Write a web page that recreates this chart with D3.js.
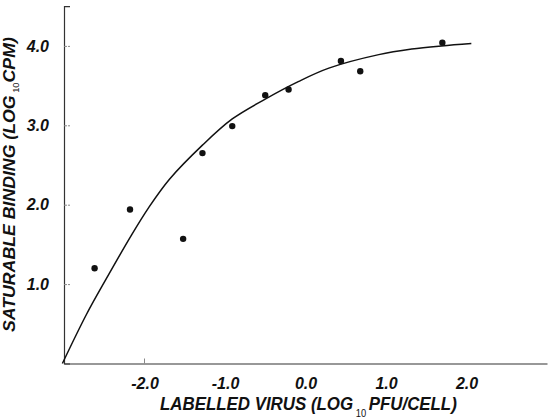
<!DOCTYPE html>
<html>
<head>
<meta charset="utf-8">
<script src="https://cdn.jsdelivr.net/npm/d3@7"></script>
<style>
body { margin: 0; background: #fff; }
svg { font-family: "Liberation Sans", Arial, sans-serif; }
.tick-label { font-weight: bold; font-style: italic; fill: #111; }
.axis-title { font-weight: bold; font-style: italic; fill: #111; }
</style>
</head>
<body>
<svg width="549" height="418"></svg>
<script>
// measured points
var virusLog = [-2.62, -2.18, -1.52, -1.28, -0.91, -0.50, -0.21, 0.44, 0.68, 1.70];
var bindingLog = [1.20, 1.94, 1.57, 2.65, 2.99, 3.38, 3.45, 3.81, 3.68, 4.04];

// fitted curve
var curveX = [-3.02, -2.72, -2.49, -2.16, -1.95, -1.69, -1.28, -0.91, -0.50, -0.09, 0.29, 0.91, 1.32, 1.69, 2.06];
var curveY = [0.00, 0.62, 1.04, 1.62, 1.96, 2.32, 2.75, 3.08, 3.33, 3.55, 3.72, 3.89, 3.96, 4.00, 4.03];

var xTicks = [-2, -1, 0, 1, 2];
var xTickLabels = ["-2.0", "-1.0", "0.0", "1.0", "2.0"];
var yTicks = [1, 2, 3, 4];
var yTickLabels = ["1.0", "2.0", "3.0", "4.0"];
var xTickMarks = [-2];

var svg = d3.select("svg");

var x = d3.scaleLinear().domain([-3, 3]).range([64, 547]);
var y = d3.scaleLinear().domain([0, 4.5]).range([363.5, 6.2]);

// axes
var xAxis = d3.axisBottom(x)
    .tickValues(xTicks)
    .tickSize(0)
    .tickPadding(25)
    .tickFormat(function(d, i) { return xTickLabels[i]; });

var gx = svg.append("g")
    .attr("transform", "translate(0," + y(0) + ")")
    .call(xAxis);
gx.select(".domain").attr("stroke", "#333").attr("stroke-width", 1.2);
gx.selectAll("text")
    .attr("class", "tick-label")
    .attr("dy", 0)
    .style("font-size", "16px");

gx.selectAll(".mark")
    .data(xTickMarks)
    .enter().append("line")
    .attr("x1", function(d) { return x(d); })
    .attr("x2", function(d) { return x(d); })
    .attr("y1", 0)
    .attr("y2", -5)
    .attr("stroke", "#888")
    .attr("stroke-width", 1);

var yAxis = d3.axisLeft(y)
    .tickValues(yTicks)
    .tickSize(-6)
    .tickPadding(15)
    .tickFormat(function(d, i) { return yTickLabels[i]; });

var gy = svg.append("g")
    .attr("transform", "translate(" + x(-3) + ",0)")
    .call(yAxis);
gy.select(".domain").attr("stroke", "#333").attr("stroke-width", 1.2);
gy.selectAll(".tick line").attr("stroke", "#888").attr("stroke-dasharray", "3,1");
gy.selectAll("text")
    .attr("class", "tick-label")
    .style("font-size", "16px");

// fitted line
var curveData = curveX.map(function(d, i) { return [d, curveY[i]]; });
var line = d3.line()
    .x(function(d) { return x(d[0]); })
    .y(function(d) { return y(d[1]); })
    .curve(d3.curveCatmullRom.alpha(0.5));

svg.append("path")
    .datum(curveData)
    .attr("fill", "none")
    .attr("stroke", "#111")
    .attr("stroke-width", 1.5)
    .attr("d", line);

// points
svg.append("g")
    .selectAll("circle")
    .data(virusLog)
    .enter().append("circle")
    .attr("cx", function(d) { return x(d); })
    .attr("cy", function(d, i) { return y(bindingLog[i]); })
    .attr("r", 3.2)
    .attr("fill", "#111");

// axis titles
function squeeze(sel, target) {
    var w = sel.node().getComputedTextLength();
    return target / w;
}

var xt = svg.append("text")
    .attr("class", "axis-title")
    .style("font-size", "18px");
xt.append("tspan").text("LABELLED VIRUS (LOG");
xt.append("tspan").attr("dy", 7).style("font-size", "10px").style("font-style", "normal").style("font-weight", "normal").text("\u00a010\u00a0");
xt.append("tspan").attr("dy", -7).text("PFU/CELL)");
var sx = squeeze(xt, 297);
xt.attr("transform", "translate(160,410) scale(" + sx + ",1)");

var yt = svg.append("text")
    .attr("class", "axis-title")
    .style("font-size", "17px");
yt.append("tspan").text("SATURABLE BINDING (LOG");
yt.append("tspan").attr("dy", 4).style("font-size", "9px").style("font-style", "normal").style("font-weight", "normal").text("\u00a010");
yt.append("tspan").attr("dy", -4).text("CPM)");
var sy = squeeze(yt, 295);
yt.attr("transform", "translate(15,332) rotate(-90) scale(" + sy + ",1)");
</script>
</body>
</html>
